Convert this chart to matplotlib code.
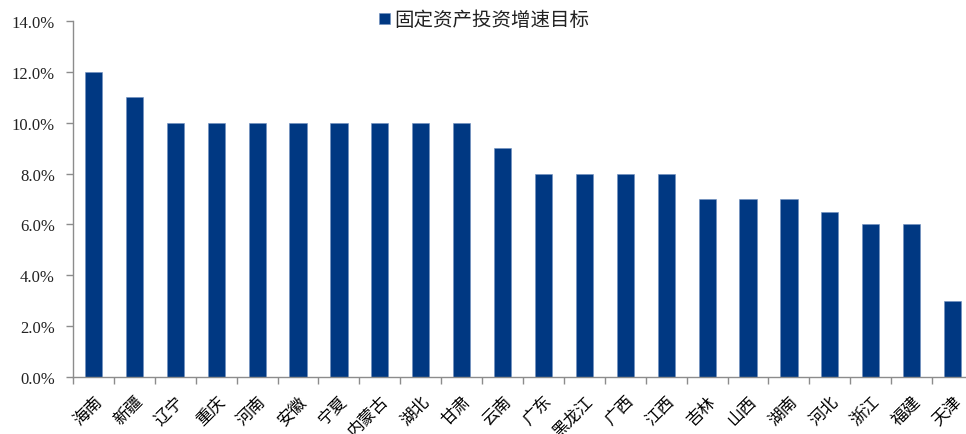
import numpy as np
import matplotlib
matplotlib.use("Agg")
import matplotlib.pyplot as plt
from matplotlib.ticker import FuncFormatter, FixedLocator

provinces = ["海南", "新疆", "辽宁", "重庆", "河南", "安徽", "宁夏", "内蒙古", "湖北", "甘肃", "云南",
             "广东", "黑龙江", "广西", "江西", "吉林", "山西", "湖南", "河北", "浙江", "福建", "天津"]
targets = [12.0, 11.0, 10.0, 10.0, 10.0, 10.0, 10.0, 10.0, 10.0, 10.0, 9.0,
           8.0, 8.0, 8.0, 8.0, 7.0, 7.0, 7.0, 6.5, 6.0, 6.0, 3.0]
series_name = "固定资产投资增速目标"

plt.rcParams["font.family"] = ["Liberation Serif", "Noto Sans CJK SC", "DejaVu Sans"]

fig = plt.figure(figsize=(9.66, 4.35), dpi=100)
ax = fig.add_axes([73 / 966, 57 / 435, 900 / 966, 356 / 435])

x = np.arange(len(provinces))
ax.bar(x, targets, width=0.42, color="#003882", edgecolor="#6f8fbf", linewidth=0.4,
       label=series_name, zorder=2)

ax.set_xlim(-0.5, len(provinces) - 0.5)
ax.set_ylim(0, 14)
ax.set_yticks(np.arange(0, 14.1, 2))
ax.yaxis.set_major_formatter(FuncFormatter(lambda v, p: f"{v:.1f}%"))

# 标签锚点放在柱中心，和原图一样斜 45 度
ax.set_xticks(x)
ax.set_xticklabels(provinces, rotation=45, ha="right", rotation_mode="anchor",
                   family=["Noto Sans CJK SC"], fontsize=12)
ax.tick_params(axis="x", which="major", length=0, pad=11)
ax.xaxis.set_minor_locator(FixedLocator(np.arange(-0.5, len(provinces), 1)))
ax.tick_params(axis="x", which="minor", length=5, color="#8c8c8c", width=1)
ax.tick_params(axis="y", length=5, color="#8c8c8c", width=1, labelsize=12, pad=8,
               labelcolor="#222222")

for side in ["top", "right"]:
    ax.spines[side].set_visible(False)
for side in ["left", "bottom"]:
    ax.spines[side].set_color("#8c8c8c")
    ax.spines[side].set_linewidth(1)

leg = ax.legend(loc="center", bbox_to_anchor=(0.457, 1.003), frameon=False,
                prop={"family": ["Noto Sans CJK SC"], "size": 14},
                handlelength=0.55, handleheight=0.55, handletextpad=0.25,
                labelcolor="#222222")

fig.savefig("out.png", dpi=100)
